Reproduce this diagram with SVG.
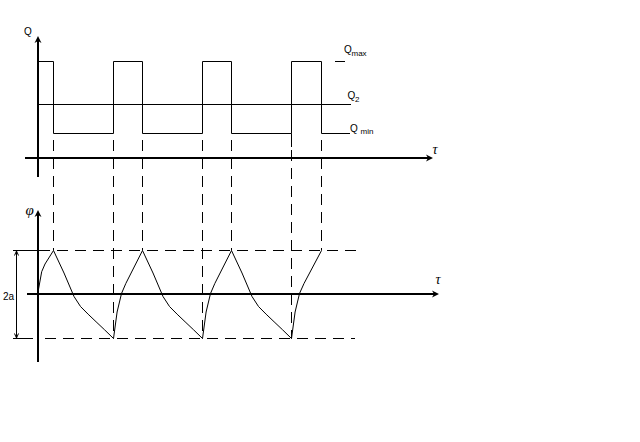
<svg xmlns="http://www.w3.org/2000/svg" width="640" height="442" viewBox="0 0 640 442">
<defs>
<marker id="arr" viewBox="-5 -4 9 8" refX="0" refY="0" markerWidth="9" markerHeight="8" markerUnits="userSpaceOnUse" orient="auto">
<path d="M3,0 L-4,-3.5 L-2,0 L-4,3.5 Z" fill="#000"/>
</marker>
<marker id="dim" viewBox="-5 -3 6 6" refX="0" refY="0" markerWidth="6" markerHeight="6" markerUnits="userSpaceOnUse" orient="auto-start-reverse">
<path d="M-4.5,-2 L0,0 L-4.5,2" fill="none" stroke="#000" stroke-width="1"/>
</marker>
<style>
.axis{stroke:#000;stroke-width:2;fill:none;marker-end:url(#arr)}
.thin{stroke:#000;stroke-width:1;fill:none}
.dash{stroke:#000;stroke-width:1;fill:none;stroke-dasharray:11 7}
.lbl{font-family:"Liberation Sans",Arial,sans-serif;font-size:10px;fill:#000}
.sub{font-size:8px}
.gr{font-family:"Liberation Serif","Times New Roman",serif;font-style:italic;fill:#000}
</style>
</defs>
<rect width="640" height="442" fill="#fff"/>

<g id="top-axes">
<line class="axis" x1="38" y1="177" x2="38" y2="39"/>
<line class="axis" x1="25" y1="158" x2="430" y2="158"/>
<text class="lbl" x="24" y="35" font-size="9">Q</text>
<text class="gr" x="432.5" y="154" font-size="14">τ</text>
</g>

<g id="square-wave">
<path class="thin" d="M38,61.5 H53.5 V133.5 H113.5 V61.5 H142.5 V133.5 H202.5 V61.5 H231.5 V133.5 H291.5 V147 M291.5,133.5 V61.5 H321.5 V133.5 H350"/>
<path class="thin" d="M38,104.5 H351"/>
<path class="thin" d="M335,61.5 H345"/>
<text class="lbl" x="344" y="53">Q<tspan class="sub" x="351.5" y="56">max</tspan></text>
<text class="lbl" x="347.5" y="98.5">Q<tspan class="sub" x="355" y="102">2</tspan></text>
<text class="lbl" x="350" y="131.5">Q<tspan class="sub" x="360.5" y="133.5">min</tspan></text>
</g>

<g id="connectors">
<path class="dash" d="M53.5,140 V250.5"/>
<path class="dash" d="M113.5,140 V338.5"/>
<path class="dash" d="M142.5,140 V250.5"/>
<path class="dash" d="M202.5,140 V338.5"/>
<path class="dash" d="M231.5,140 V250.5"/>
<path class="dash" d="M291.5,150 V338.5"/>
<path class="dash" d="M321.5,140 V250.5"/>
<path class="thin" d="M13,250.5 H37"/>
<path class="dash" d="M39,250.5 H357"/>
<path class="thin" d="M13,338.5 H33"/>
<path class="dash" d="M45,338.5 H355"/>
</g>

<g id="bottom-axes">
<line class="axis" x1="38" y1="362" x2="38" y2="213"/>
<line class="axis" x1="27" y1="294" x2="436" y2="294"/>
<text class="gr" x="25.5" y="215" font-size="15">φ</text>
<text class="gr" x="435.5" y="284" font-size="14">τ</text>
</g>

<g id="dimension">
<line class="thin" x1="16.5" y1="251" x2="16.5" y2="338" marker-start="url(#dim)" marker-end="url(#dim)"/>
<text class="lbl" x="3" y="300">2a</text>
</g>

<g id="phi-curve">
<path class="thin" d="M38,292 L41.7,271.7 L45,264 L53.5,250.5
l10.5,22.5 l10,23.5 l6.5,10 c10,10.5 20.5,19.5 33,32
l3.6,-26.5 l4.4,-18.5 l4.3,-10 l16.7,-33
l10.5,22.5 l10,23.5 l6.5,10 c10,10.5 20.5,19.5 33,32
l3.6,-26.5 l4.4,-18.5 l4.3,-10 l16.7,-33
l10.5,22.5 l10,23.5 l6.5,10 c10,10.5 20.5,19.5 33,32
l3.6,-26.5 l4.4,-18.5 l4.5,-10 l17.5,-33"/>
</g>
</svg>
